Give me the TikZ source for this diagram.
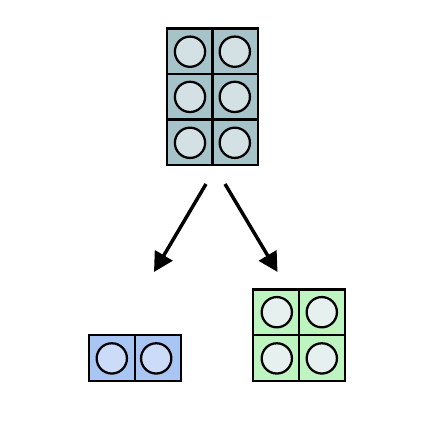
\documentclass[tikz,border=0pt]{standalone}
\usetikzlibrary{arrows.meta}
\definecolor{tealc}{HTML}{A5C3C8}
\definecolor{tealo}{HTML}{D3E1E4}
\definecolor{bluec}{HTML}{A9C5F4}
\definecolor{blueo}{HTML}{CBDBF8}
\definecolor{greenc}{HTML}{BEF4BF}
\definecolor{greeno}{HTML}{E6F1EF}
\tikzset{
  x=0.75pt,y=-0.75pt,
  cell/.style={draw=black,line width=1.7pt,minimum width=34.3pt,minimum height=34.3pt,inner sep=0pt,outer sep=0pt,rectangle,fill=#1},
  stud/.style={draw=black,line width=1.7pt,circle,minimum size=22.7pt,inner sep=0pt,fill=#1},
  flow/.style={draw=black,line width=2.6pt,-{Triangle[length=14.5pt,width=15pt]}}
}
\newcommand{\brick}[7]{% name, cell x, y, stud x, y, cell col, stud col
  \node[cell=#6] (#1c) at (#2,#3) {};
  \node[stud=#7] (#1s) at (#4,#5) {};
}
\begin{document}
\begin{tikzpicture}
\useasboundingbox (0,0) rectangle (429,438);
\brick{ta}{189.75}{51.25}{190}{51.7}{tealc}{tealo}
\brick{tb}{235.25}{51.25}{234.8}{51.7}{tealc}{tealo}
\brick{tc}{189.75}{96.75}{190}{96.9}{tealc}{tealo}
\brick{td}{235.25}{96.75}{234.8}{96.9}{tealc}{tealo}
\brick{te}{189.75}{142.25}{190}{142.8}{tealc}{tealo}
\brick{tf}{235.25}{142.25}{234.8}{142.8}{tealc}{tealo}
\brick{ba}{112}{358}{111.8}{358.4}{bluec}{blueo}
\brick{bb}{158}{358}{156.2}{358.4}{bluec}{blueo}
\brick{ga}{276}{312.25}{276.8}{312.2}{greenc}{greeno}
\brick{gb}{322}{312.25}{321.8}{312.2}{greenc}{greeno}
\brick{gc}{276}{358}{276.8}{358.4}{greenc}{greeno}
\brick{gd}{322}{358}{321.8}{358.4}{greenc}{greeno}
\coordinate (sl) at (206,184);
\coordinate (el) at (154,272);
\coordinate (sr) at (225,184);
\coordinate (er) at (277.5,272);
\draw[flow] (sl) -- (el);
\draw[flow] (sr) -- (er);
\end{tikzpicture}
\end{document}
